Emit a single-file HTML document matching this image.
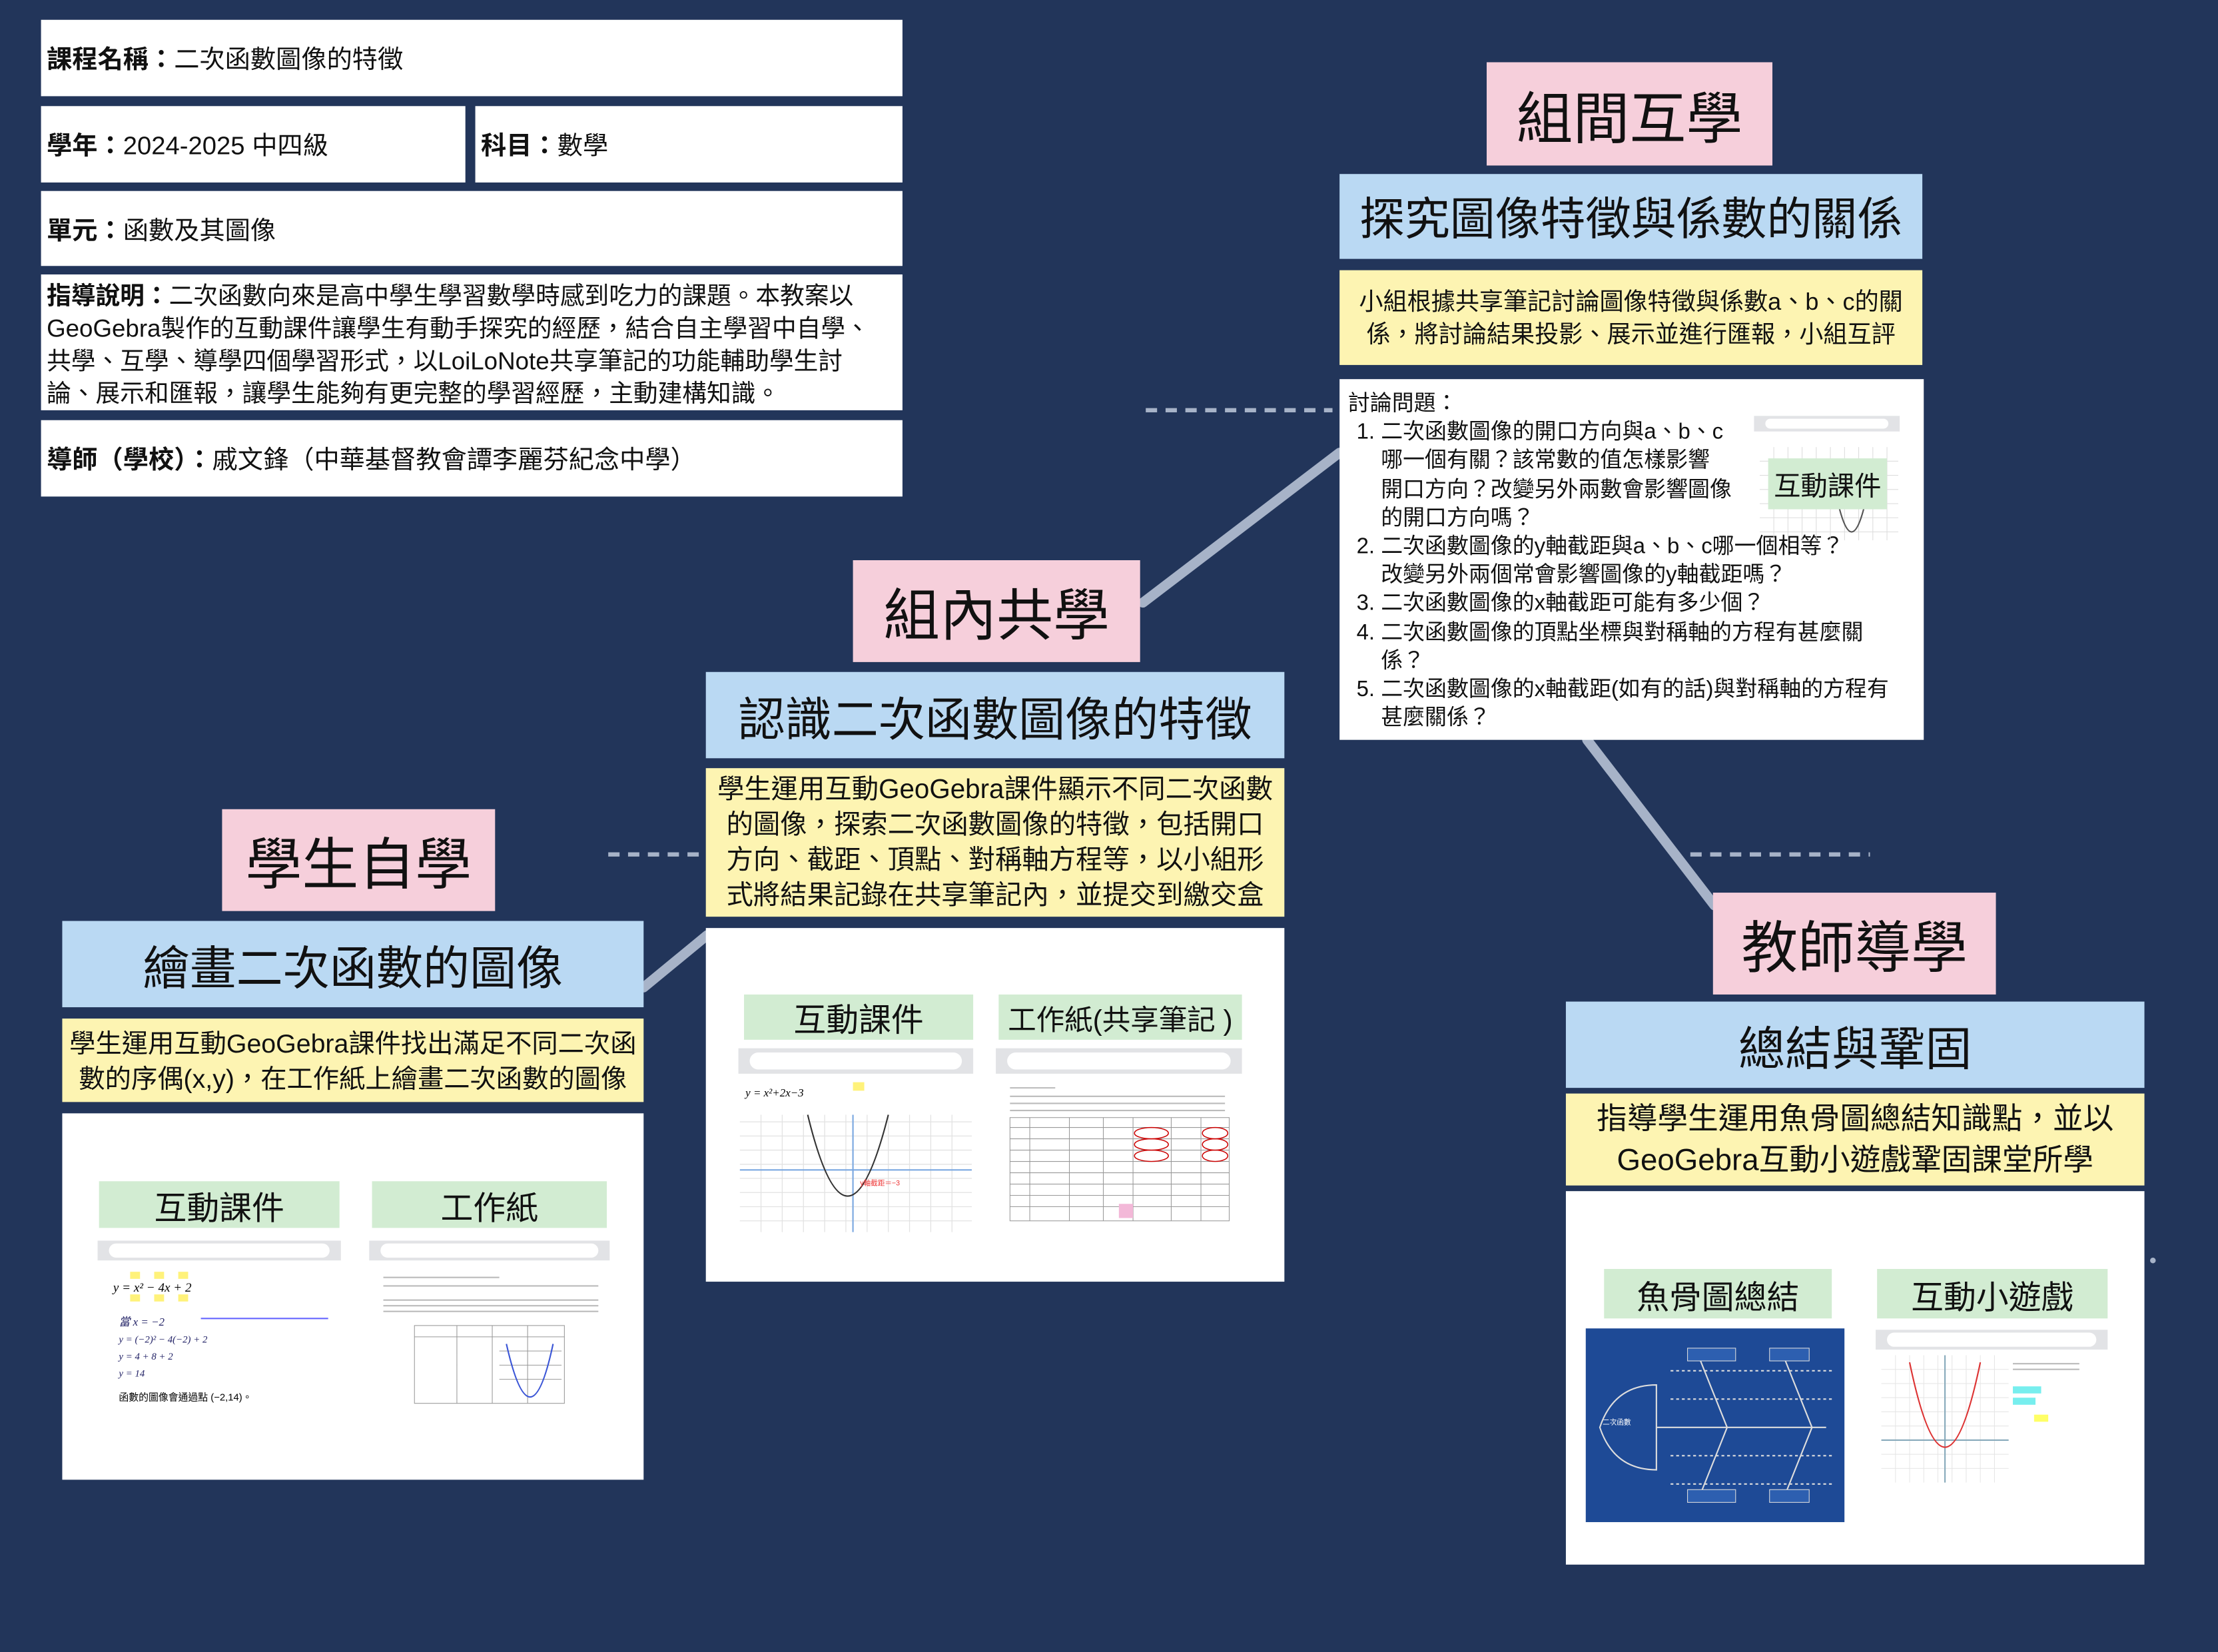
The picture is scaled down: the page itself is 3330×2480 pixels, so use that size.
<!DOCTYPE html>
<html><head><meta charset="utf-8"><style>
html,body{margin:0;padding:0;}
body{width:3330px;height:2480px;overflow:hidden;background:#22355a;}
#s{position:absolute;left:0;top:0;width:1568px;height:1168px;transform:scale(2.1237);transform-origin:0 0;font-family:"Liberation Sans","Noto Sans CJK TC",sans-serif;color:#111;}
.b{position:absolute;box-sizing:border-box;}
.w{background:#fff;}
.info{font-size:18px;display:flex;align-items:center;padding-left:4px;white-space:nowrap;}
.info b{font-weight:bold;}
.pk{background:#f6cfdb;display:flex;align-items:center;justify-content:center;font-size:40px;}
.bl{background:#bad9f3;display:flex;align-items:center;justify-content:center;font-size:33px;white-space:nowrap;}
.yl{background:#fdf4b2;display:flex;align-items:center;justify-content:center;text-align:center;white-space:nowrap;}
.gr{background:#d2ecd2;display:flex;align-items:center;justify-content:center;font-size:23px;white-space:nowrap;}
.url{background:#e2e3e6;}
.url i{position:absolute;left:8px;right:8px;top:3px;bottom:3px;background:#fff;border-radius:8px;}
</style></head><body><div id="s">
<svg class="b" style="left:0;top:0" width="1568" height="1168">
<g stroke="#a7b3c8" stroke-width="7" stroke-linecap="round">
<line x1="808" y1="426" x2="947" y2="320"/>
<line x1="1122" y1="523" x2="1212" y2="640"/>
<line x1="455" y1="698" x2="500" y2="661"/>
</g>
<g stroke="#a7b3c8" stroke-width="3" stroke-dasharray="8,6">
<line x1="810" y1="290" x2="942" y2="290"/>
<line x1="430" y1="604" x2="495" y2="604"/>
<line x1="1195" y1="604" x2="1322" y2="604"/>
</g>
<circle cx="1522" cy="891" r="2" fill="#a7b3c8"/>
</svg>

<div class="b w info" style="left:29px;top:14px;width:609px;height:54px"><b>課程名稱：</b>二次函數圖像的特徵</div>
<div class="b w info" style="left:29px;top:75px;width:300px;height:54px"><b>學年：</b>2024-2025 中四級</div>
<div class="b w info" style="left:336px;top:75px;width:302px;height:54px"><b>科目：</b>數學</div>
<div class="b w info" style="left:29px;top:135px;width:609px;height:53px"><b>單元：</b>函數及其圖像</div>
<div class="b w" style="left:29px;top:194px;width:609px;height:96px;font-size:17.3px;line-height:23px;padding:4px 4px;white-space:nowrap"><b>指導說明：</b>二次函數向來是高中學生學習數學時感到吃力的課題。本教案以<br>GeoGebra製作的互動課件讓學生有動手探究的經歷，結合自主學習中自學、<br>共學、互學、導學四個學習形式，以LoiLoNote共享筆記的功能輔助學生討<br>論、展示和匯報，讓學生能夠有更完整的學習經歷，主動建構知識。</div>
<div class="b w info" style="left:29px;top:297px;width:609px;height:54px"><b>導師（學校）：</b>戚文鋒（中華基督教會譚李麗芬紀念中學）</div>

<!-- right top -->
<div class="b pk" style="left:1051px;top:44px;width:202px;height:73px">組間互學</div>
<div class="b bl" style="left:947px;top:123px;width:412px;height:60px;font-size:32px">探究圖像特徵與係數的關係</div>
<div class="b yl" style="left:947px;top:191px;width:412px;height:67px;font-size:17px;line-height:23px">小組根據共享筆記討論圖像特徵與係數a、b、c的關<br>係，將討論結果投影、展示並進行匯報，小組互評</div>
<div class="b w" style="left:947px;top:268px;width:413px;height:255px;font-size:15.5px;line-height:20.2px;padding:8px 6px;white-space:nowrap">
<div>討論問題：</div>
<div style="padding-left:6px">1. 二次函數圖像的開口方向與a、b、c<br>&nbsp;&nbsp;&nbsp;&nbsp;哪一個有關？該常數的值怎樣影響<br>&nbsp;&nbsp;&nbsp;&nbsp;開口方向？改變另外兩數會影響圖像<br>&nbsp;&nbsp;&nbsp;&nbsp;的開口方向嗎？<br>2. 二次函數圖像的y軸截距與a、b、c哪一個相等？<br>&nbsp;&nbsp;&nbsp;&nbsp;改變另外兩個常會影響圖像的y軸截距嗎？<br>3. 二次函數圖像的x軸截距可能有多少個？<br>4. 二次函數圖像的頂點坐標與對稱軸的方程有甚麼關<br>&nbsp;&nbsp;&nbsp;&nbsp;係？<br>5. 二次函數圖像的x軸截距(如有的話)與對稱軸的方程有<br>&nbsp;&nbsp;&nbsp;&nbsp;甚麼關係？</div>
</div>
<div class="b url" style="left:1240px;top:294px;width:103px;height:11px"><i style="top:2px;bottom:2px"></i></div>
<svg class="b" style="left:1244px;top:306px" width="98" height="76"><g stroke="#ddd" stroke-width="0.5"><path d="M0 20H98M0 30H98M0 40H98M0 50H98M0 60H98M0 70H98M10 10V76M20 10V76M30 10V76M40 10V76M50 10V76M60 10V76M70 10V76M80 10V76M90 10V76"/></g><path d="M50 20Q65 120 80 20" stroke="#555" fill="none"/></svg>
<div class="b gr" style="left:1250px;top:324px;width:84px;height:36px;font-size:19px">互動課件</div>

<!-- middle -->
<div class="b pk" style="left:603px;top:396px;width:203px;height:72px">組內共學</div>
<div class="b bl" style="left:499px;top:475px;width:409px;height:61px;font-size:33px">認識二次函數圖像的特徵</div>
<div class="b yl" style="left:499px;top:543px;width:409px;height:105px;font-size:19px;line-height:25px">學生運用互動GeoGebra課件顯示不同二次函數<br>的圖像，探索二次函數圖像的特徵，包括開口<br>方向、截距、頂點、對稱軸方程等，以小組形<br>式將結果記錄在共享筆記內，並提交到繳交盒</div>
<div class="b w" style="left:499px;top:656px;width:409px;height:250px"></div>
<div class="b gr" style="left:526px;top:703px;width:162px;height:32px">互動課件</div>
<div class="b gr" style="left:706px;top:703px;width:172px;height:32px;font-size:20px">工作紙(共享筆記 )</div>
<div class="b url" style="left:522px;top:741px;width:166px;height:18px"><i></i></div>
<div class="b url" style="left:704px;top:741px;width:174px;height:18px"><i></i></div>
<svg class="b" style="left:523px;top:763px" width="164" height="108"><g stroke="#e2e2e2" stroke-width="0.6"><path d="M0 30H164M0 40H164M0 50H164M0 60H164M0 70H164M0 80H164M0 90H164M0 100H164M15 25V108M30 25V108M45 25V108M60 25V108M75 25V108M90 25V108M105 25V108M120 25V108M135 25V108M150 25V108"/></g><line x1="0" y1="64" x2="164" y2="64" stroke="#7aa7e0"/><line x1="80" y1="25" x2="80" y2="108" stroke="#7aa7e0"/><path d="M48 25Q76 140 105 25" stroke="#333" fill="none"/><text x="4" y="12" font-size="8" font-style="italic" font-family="Liberation Serif">y = x²+2x−3</text><rect x="80" y="2" width="8" height="6" fill="#fff27a"/><text x="85" y="75" font-size="5" fill="#e33">y軸截距＝−3</text></svg>
<svg class="b" style="left:706px;top:763px" width="170" height="108"><g stroke="#999" stroke-width="0.5" fill="none"><rect x="8" y="27" width="155" height="73"/><path d="M8 34H163M8 42H163M8 50H163M8 58H163M8 66H163M8 74H163M8 82H163M8 90H163M22 27V100M50 27V100M74 27V100M95 27V100M122 27V100M143 27V100"/></g><g stroke="#c00" fill="none" stroke-width="0.7"><ellipse cx="108" cy="38" rx="12" ry="4"/><ellipse cx="108" cy="46" rx="12" ry="4"/><ellipse cx="108" cy="54" rx="12" ry="4"/><ellipse cx="153" cy="38" rx="9" ry="4"/><ellipse cx="153" cy="46" rx="9" ry="4"/><ellipse cx="153" cy="54" rx="9" ry="4"/></g><rect x="85" y="88" width="10" height="10" fill="#f3b8d8"/><path d="M8 6H40M8 12H160M8 17H160M8 22H160" stroke="#bbb" stroke-width="1"/></svg>

<!-- left -->
<div class="b pk" style="left:157px;top:572px;width:193px;height:72px">學生自學</div>
<div class="b bl" style="left:44px;top:651px;width:411px;height:61px;font-size:33px">繪畫二次函數的圖像</div>
<div class="b yl" style="left:44px;top:720px;width:411px;height:59px;font-size:18.5px;line-height:25px">學生運用互動GeoGebra課件找出滿足不同二次函<br>數的序偶(x,y)，在工作紙上繪畫二次函數的圖像</div>
<div class="b w" style="left:44px;top:787px;width:411px;height:259px"></div>
<div class="b gr" style="left:70px;top:835px;width:170px;height:33px">互動課件</div>
<div class="b gr" style="left:263px;top:835px;width:166px;height:33px">工作紙</div>
<div class="b url" style="left:69px;top:877px;width:172px;height:14px"><i style="top:2px;bottom:2px"></i></div>
<div class="b url" style="left:261px;top:877px;width:170px;height:14px"><i style="top:2px;bottom:2px"></i></div>
<svg class="b" style="left:72px;top:895px" width="168" height="110" font-family="Liberation Serif" font-style="italic"><g fill="#fff27a"><rect x="20" y="4" width="7" height="5"/><rect x="37" y="4" width="7" height="5"/><rect x="54" y="4" width="7" height="5"/><rect x="20" y="20" width="7" height="5"/><rect x="37" y="20" width="7" height="5"/><rect x="54" y="20" width="7" height="5"/></g><text x="8" y="18" font-size="9">y = x² − 4x + 2</text><line x1="70" y1="37" x2="160" y2="37" stroke="#66f"/><text x="12" y="42" font-size="8" fill="#226">當 x = −2</text><text x="12" y="54" font-size="7" fill="#226">y = (−2)² − 4(−2) + 2</text><text x="12" y="66" font-size="7" fill="#226">y = 4 + 8 + 2</text><text x="12" y="78" font-size="7" fill="#226">y = 14</text><text x="12" y="95" font-size="7" font-style="normal" font-family="Liberation Sans,Noto Sans CJK TC">函數的圖像會通過點 (−2,14)。</text></svg>
<svg class="b" style="left:263px;top:895px" width="166" height="110"><path d="M8 8H90M8 14H160M8 24H160M8 28H160M8 32H160" stroke="#bbb" stroke-width="1"/><g stroke="#999" stroke-width="0.5" fill="none"><rect x="30" y="42" width="106" height="55"/><path d="M30 50H136M60 42V97M85 42V97M110 42V97M90 60H134M90 70H134M90 80H134"/></g><path d="M95 55Q112 130 128 55" stroke="#3a55d6" fill="none"/></svg>

<!-- right bottom -->
<div class="b pk" style="left:1211px;top:631px;width:200px;height:72px">教師導學</div>
<div class="b bl" style="left:1107px;top:708px;width:409px;height:61px;font-size:33px">總結與鞏固</div>
<div class="b yl" style="left:1107px;top:773px;width:409px;height:65px;font-size:21.5px;line-height:29px">指導學生運用魚骨圖總結知識點，並以<br>GeoGebra互動小遊戲鞏固課堂所學</div>
<div class="b w" style="left:1107px;top:842px;width:409px;height:264px"></div>
<div class="b gr" style="left:1134px;top:897px;width:161px;height:35px">魚骨圖總結</div>
<div class="b gr" style="left:1327px;top:897px;width:163px;height:35px">互動小遊戲</div>
<svg class="b" style="left:1121px;top:939px" width="183" height="137"><rect width="183" height="137" fill="#1e4a96"/><g stroke="#ddd" stroke-width="1" fill="none"><path d="M50 70H170"/><path d="M80 20L100 70M140 20L160 70M80 120L100 70M140 120L160 70"/><path d="M50 40Q20 40 10 70Q20 100 50 100Z"/><path d="M60 30H120M60 50H120M60 90H120M60 110H120M120 30H175M120 50H175M120 90H175M120 110H175" stroke-dasharray="2,2"/></g><rect x="72" y="14" width="34" height="9" fill="#2d5fb0" stroke="#ddd" stroke-width=".5"/><rect x="130" y="14" width="28" height="9" fill="#2d5fb0" stroke="#ddd" stroke-width=".5"/><rect x="72" y="114" width="34" height="9" fill="#2d5fb0" stroke="#ddd" stroke-width=".5"/><rect x="130" y="114" width="28" height="9" fill="#2d5fb0" stroke="#ddd" stroke-width=".5"/><text x="12" y="68" font-size="5" fill="#fff">二次函數</text></svg>
<div class="b url" style="left:1326px;top:940px;width:164px;height:14px"><i style="top:2px;bottom:2px"></i></div>
<svg class="b" style="left:1330px;top:958px" width="160" height="100"><g stroke="#e6e6e6" stroke-width="0.5"><path d="M0 10H90M0 20H90M0 30H90M0 40H90M0 50H90M0 60H90M0 70H90M0 80H90M10 0V90M20 0V90M30 0V90M40 0V90M50 0V90M60 0V90M70 0V90M80 0V90"/></g><line x1="0" y1="60" x2="90" y2="60" stroke="#8ab"/><line x1="45" y1="0" x2="45" y2="90" stroke="#8ab"/><path d="M20 5Q45 125 70 5" stroke="#d33" fill="none"/><rect x="93" y="22" width="20" height="5" fill="#7ee"/><rect x="93" y="30" width="16" height="5" fill="#7ee"/><rect x="108" y="42" width="10" height="5" fill="#ff6"/><path d="M93 6H140M93 10H140" stroke="#bbb"/></svg>
</div></body></html>
